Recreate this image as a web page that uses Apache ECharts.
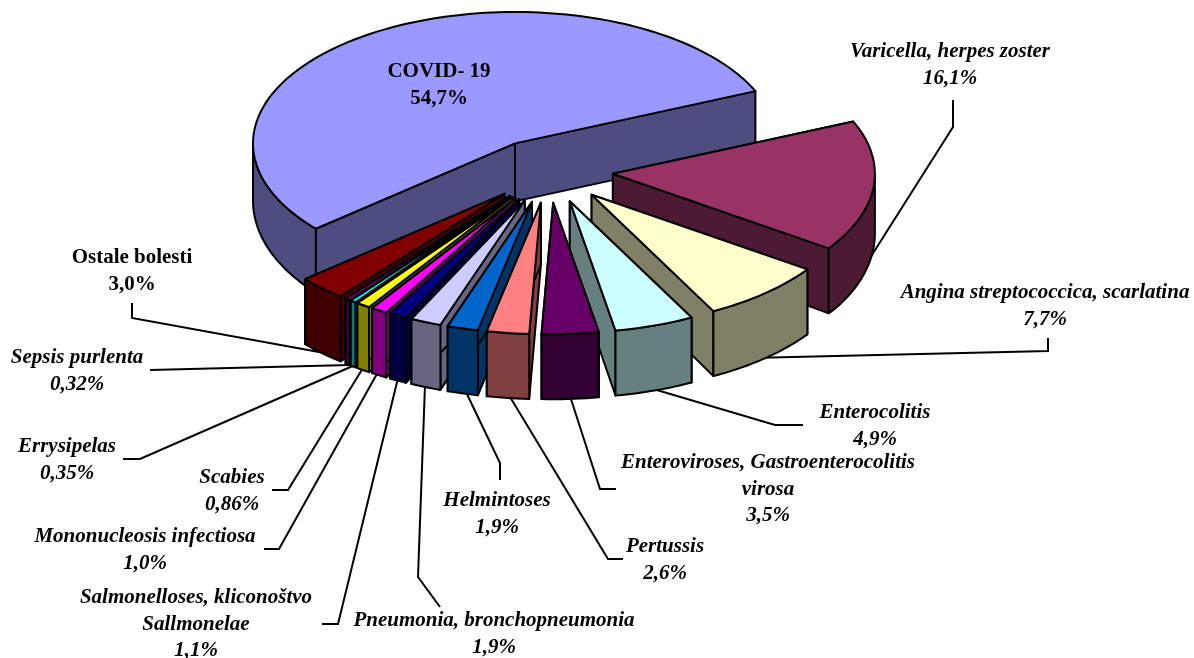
<!DOCTYPE html>
<html>
<head>
<meta charset="utf-8">
<title>Exploded pie</title>
<style>
  html, body { margin: 0; padding: 0; background: #fff; }
  #chart { width: 1194px; height: 658px; }
</style>
<script src="https://cdn.jsdelivr.net/npm/echarts@6/dist/echarts.min.js"></script>
</head>
<body>
<div id="chart"></div>
<script>
// data, clockwise from the big slice
const sliceNames = [
  'COVID- 19',
  'Varicella, herpes zoster',
  'Angina streptococcica, scarlatina',
  'Enterocolitis',
  'Enteroviroses, Gastroenterocolitis\nvirosa',
  'Pertussis',
  'Helmintoses',
  'Pneumonia, bronchopneumonia',
  'Salmonelloses, kliconoštvo\nSallmonelae',
  'Mononucleosis infectiosa',
  'Scabies',
  'Errysipelas',
  'Sepsis purlenta',
  'Ostale bolesti'
];
const sliceValues = [54.7, 16.1, 7.7, 4.9, 3.5, 2.6, 1.9, 1.9, 1.1, 1.0, 0.86, 0.35, 0.32, 3.0];
const sliceColors = [
  '#9999FF', '#993366', '#FFFFCC', '#CCFFFF', '#660066', '#FF8080', '#0066CC',
  '#CCCCFF', '#000080', '#FF00FF', '#FFFF00', '#00FFFF', '#800080', '#800000'
];

// layout, same order as above: label centre and the first line's y
const labelAnchors = [
  [439, 72], [950, 52], [1045, 293], [875, 413], [768, 463], [665, 547], [497, 501],
  [494, 621], [196, 598], [145, 537], [232, 478], [67, 447], [77, 358], [132, 258]
];
const leaderLines = [
  null,
  [[953, 100], [953, 127], [870, 258]],
  [[1048, 338], [1048, 351], [750, 358]],
  [[803, 425], [775, 425], [650, 388]],
  [[616, 489], [600, 489], [570, 396]],
  [[623, 559], [608, 559], [507, 392]],
  [[500, 480], [500, 463], [465, 390]],
  [[440, 607], [418, 577], [425, 385]],
  [[322, 624], [338, 624], [398, 378]],
  [[264, 549], [279, 549], [378, 372]],
  [[272, 490], [288, 490], [363, 368]],
  [[123, 459], [140, 459], [355, 365]],
  [[150, 370], [350, 365]],
  [[132, 303], [132, 318], [330, 354]]
];
const uprightLabels = [0, 13];

const CX = 549, CY = 170.7, RX = 262, RY = 131.4, EXPLODE = 0.245;
const DEPTH_BACK = 58, DEPTH_FRONT = 65; // walls get taller towards the viewer
const START_ANGLE = 220.5;
const LINE_HEIGHT = 26.5;
const FONT = '"Liberation Serif", "Times New Roman", serif';

const total = sliceValues.reduce((a, b) => a + b, 0);

// angles in degrees, counter-clockwise from the x axis, going down from START_ANGLE
let running = START_ANGLE;
const slices = sliceValues.map((v, i) => {
  const hi = running;
  const lo = hi - v / total * 360;
  running = lo;
  const mid = (hi + lo) / 2 * Math.PI / 180;
  return {
    i, hi, lo, mid,
    ax: CX + EXPLODE * RX * Math.cos(mid),
    ay: CY - EXPLODE * RY * Math.sin(mid)
  };
});

function rimPoint(s, deg) {
  const a = deg * Math.PI / 180;
  return [s.ax + RX * Math.cos(a), s.ay - RY * Math.sin(a)];
}

function drop(p) {
  const t = Math.min(1, Math.max(0, (p[1] - 150) / 90));
  return [p[0], p[1] + DEPTH_BACK + (DEPTH_FRONT - DEPTH_BACK) * t];
}

function arcPoints(s, from, to) {
  const n = Math.max(2, Math.ceil(Math.abs(from - to) / 1.5));
  const pts = [];
  for (let k = 0; k <= n; k++) {
    pts.push(rimPoint(s, from + (to - from) * k / n));
  }
  return pts;
}

function halfColor(hex) {
  const n = parseInt(hex.slice(1), 16);
  const c = [n >> 16, (n >> 8) & 255, n & 255].map(x => Math.round(x / 2));
  return 'rgb(' + c.join(',') + ')';
}

function face(points, fill) {
  return {
    type: 'polygon',
    shape: { points },
    style: { fill, stroke: '#000', lineWidth: 2, lineJoin: 'round' }
  };
}

function renderSlice(params, api) {
  const s = slices[api.value(0)];
  const top = sliceColors[s.i];
  const wall = halfColor(top);
  const apex = [s.ax, s.ay];
  const children = [];

  // the two cut faces, the top face covers whatever is not visible
  [s.hi, s.lo].forEach(deg => {
    const rim = rimPoint(s, deg);
    children.push(face([apex, rim, drop(rim), drop(apex)], wall));
  });

  // outer wall, only where the rim faces the viewer
  [[-180, 0], [180, 360]].forEach(range => {
    const from = Math.min(s.hi, range[1]);
    const to = Math.max(s.lo, range[0]);
    if (from > to) {
      const upper = arcPoints(s, from, to);
      const lower = upper.map(drop).reverse();
      children.push(face(upper.concat(lower), wall));
    }
  });

  children.push(face([apex].concat(arcPoints(s, s.hi, s.lo)), top));
  return { type: 'group', children };
}

// back to front
const drawOrder = slices.slice().sort((a, b) => Math.sin(b.mid) - Math.sin(a.mid)).map(s => [s.i]);

function formatValue(v) {
  return v.toFixed(v < 1 ? 2 : 1).replace('.', ',') + '%';
}

const graphics = [];
sliceNames.forEach((name, i) => {
  const upright = uprightLabels.indexOf(i) >= 0;
  const lines = name.split('\n').concat(formatValue(sliceValues[i]));
  lines.forEach((text, k) => {
    graphics.push({
      type: 'text',
      z: 100,
      x: labelAnchors[i][0],
      y: labelAnchors[i][1] + k * LINE_HEIGHT,
      style: {
        text,
        fill: '#000',
        font: (upright ? '' : 'italic ') + 'bold 21px ' + FONT,
        textAlign: 'center',
        textVerticalAlign: 'middle'
      }
    });
  });
  if (leaderLines[i]) {
    graphics.push({
      type: 'polyline',
      z: 0,
      shape: { points: leaderLines[i] },
      style: { fill: null, stroke: '#000', lineWidth: 2 }
    });
  }
});

const chart = echarts.init(document.getElementById('chart'));
chart.setOption({
  animation: false,
  backgroundColor: '#fff',
  graphic: graphics,
  series: [{
    type: 'custom',
    coordinateSystem: 'none',
    renderItem: renderSlice,
    data: drawOrder,
    silent: true
  }]
});
</script>
</body>
</html>
